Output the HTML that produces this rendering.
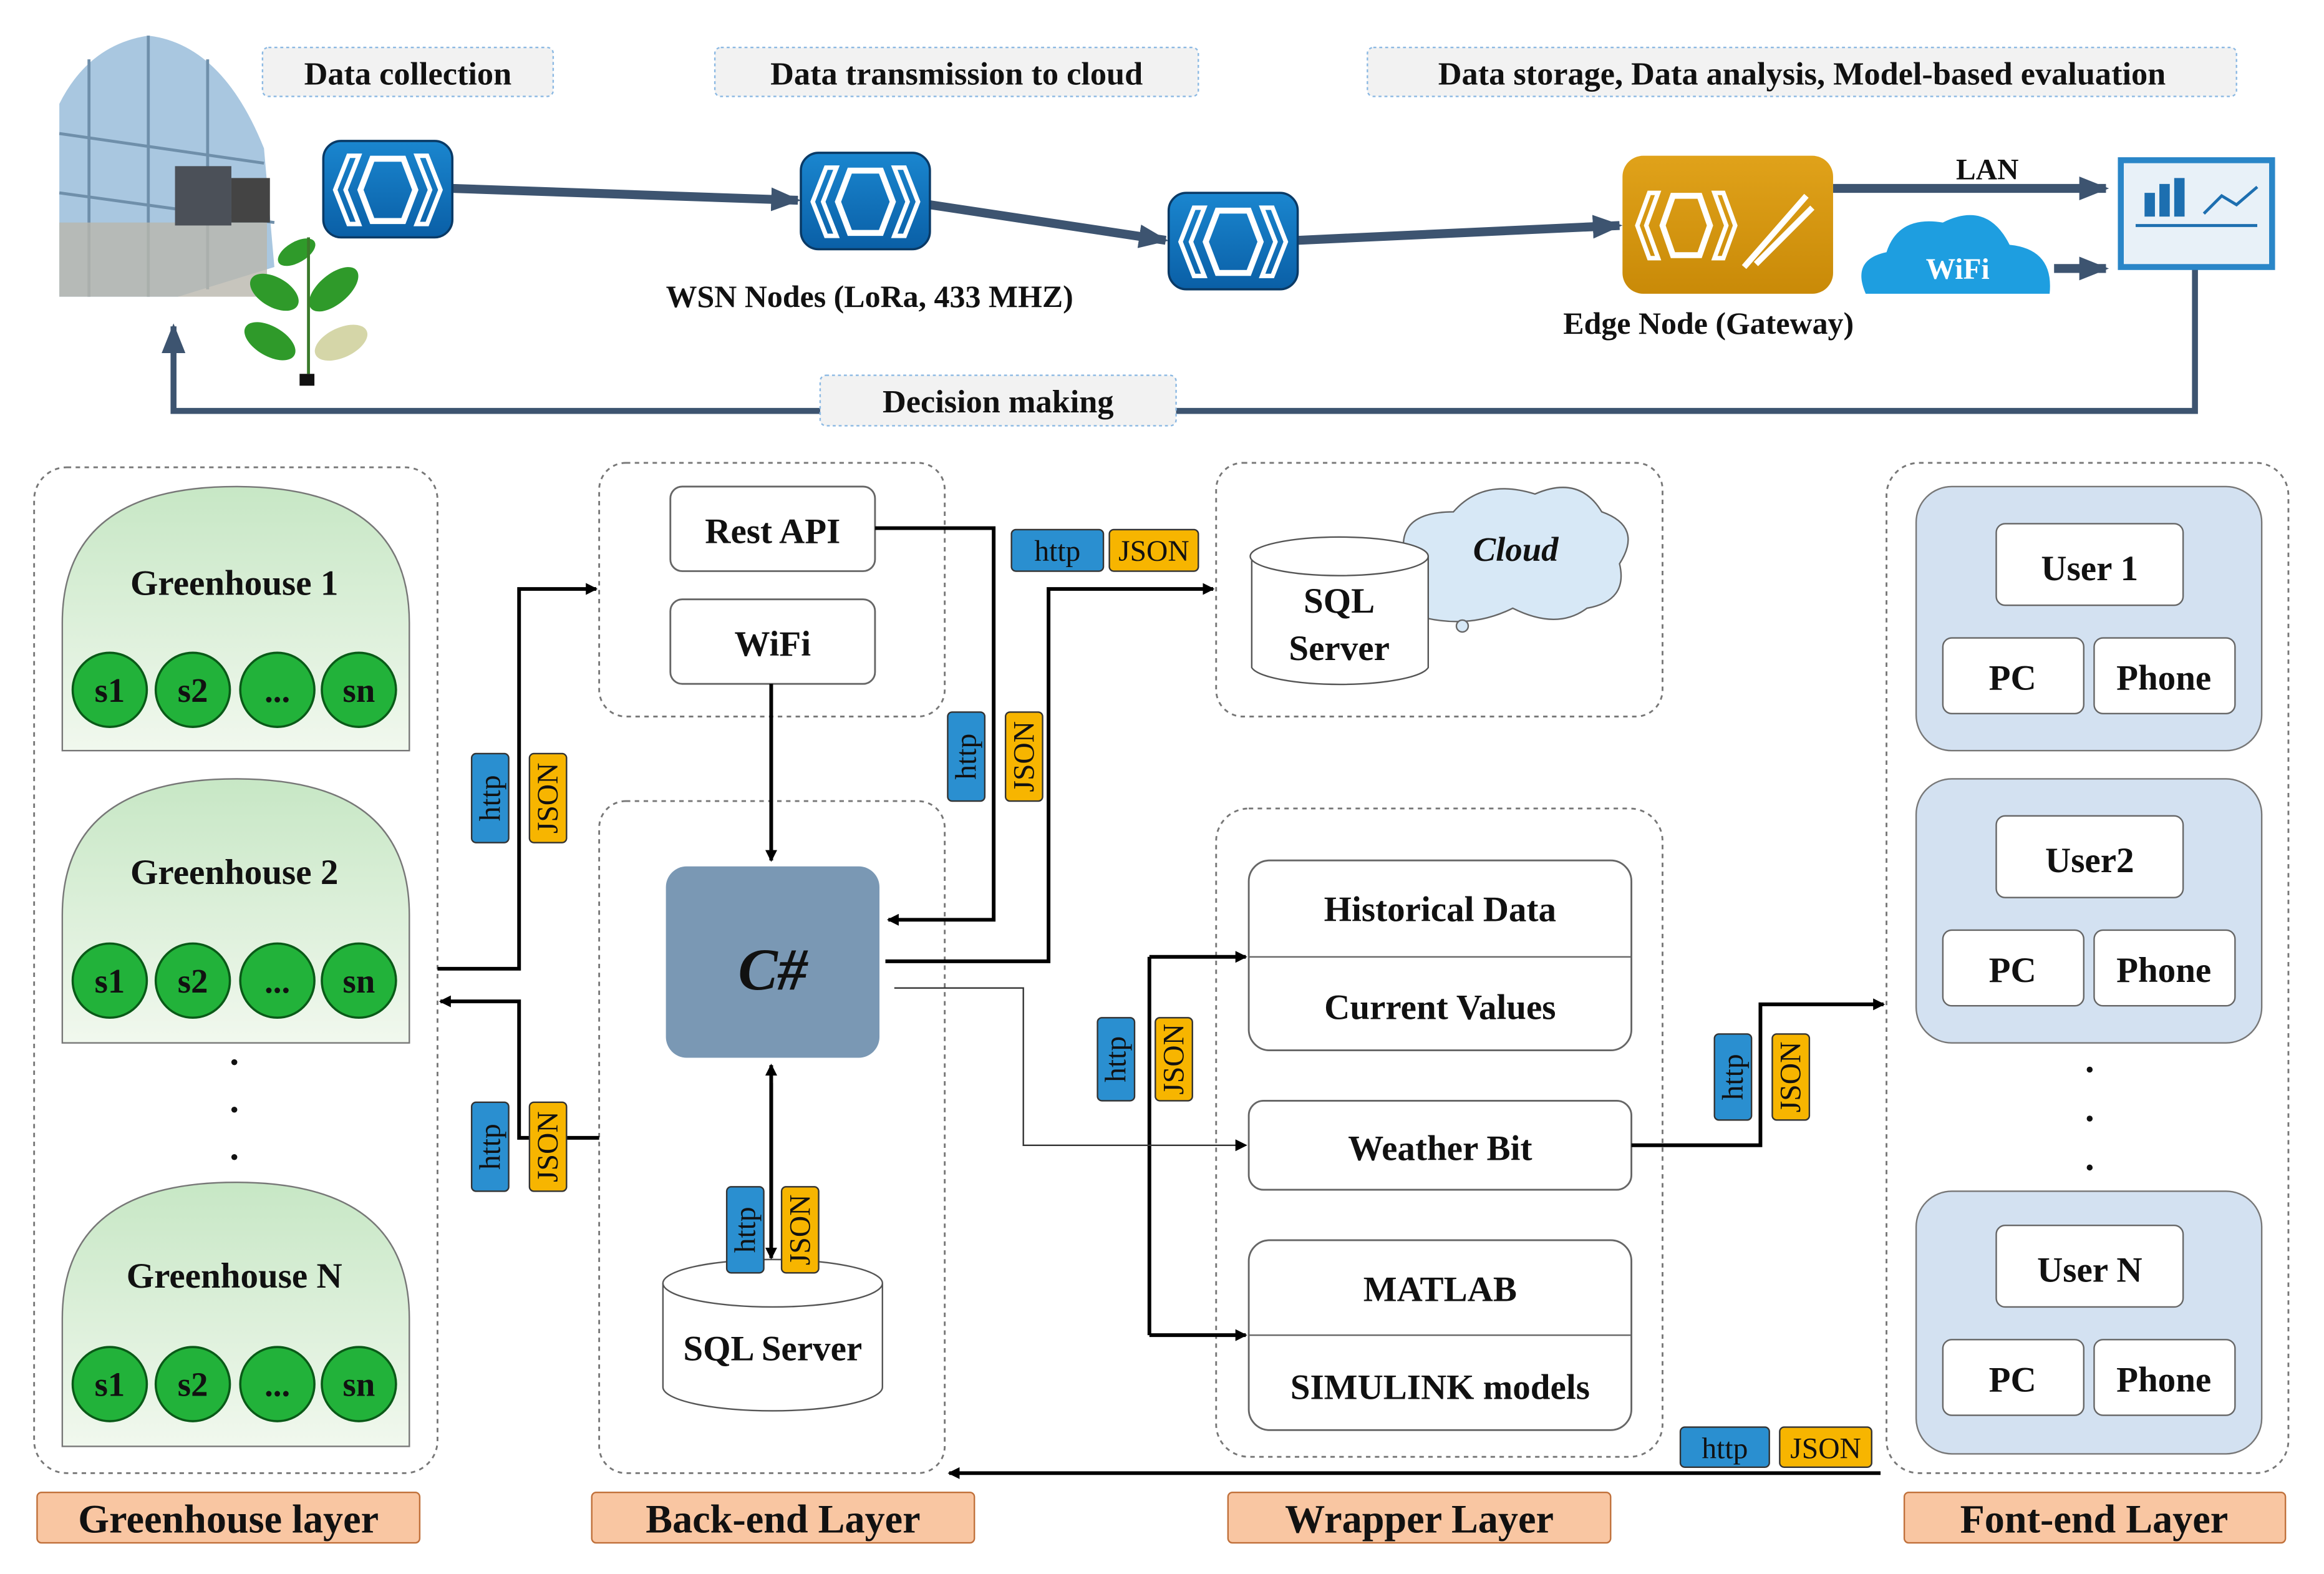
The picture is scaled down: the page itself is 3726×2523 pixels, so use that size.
<!DOCTYPE html>
<html><head><meta charset="utf-8"><style>
html,body{margin:0;padding:0;background:#fff;}
svg{display:block;}
text{font-family:"Liberation Serif",serif;font-weight:bold;fill:#111;}
</style></head><body>
<svg width="3726" height="2523" viewBox="0 0 1567 1061" preserveAspectRatio="none" xmlns="http://www.w3.org/2000/svg">
<defs>
<marker id="a" markerWidth="8" markerHeight="8" refX="7" refY="4" orient="auto" markerUnits="userSpaceOnUse"><path d="M0,0 L8,4 L0,8 z" fill="#000"/></marker>
<marker id="ab" markerWidth="20" markerHeight="16" refX="18" refY="8" orient="auto" markerUnits="userSpaceOnUse"><path d="M0,0 L20,8 L0,16 z" fill="#3d5470"/></marker>
<linearGradient id="bl" x1="0" y1="0" x2="0" y2="1"><stop offset="0" stop-color="#1a86cf"/><stop offset="1" stop-color="#0a5fa6"/></linearGradient>
<linearGradient id="gd" x1="0" y1="0" x2="0" y2="1"><stop offset="0" stop-color="#e0a21a"/><stop offset="1" stop-color="#c98a08"/></linearGradient>
<linearGradient id="gh" x1="0" y1="0" x2="0" y2="1"><stop offset="0" stop-color="#c7e7c5"/><stop offset="1" stop-color="#f1f8ee"/></linearGradient>
<g id="ico"><rect x="0" y="0" width="87" height="65" rx="12" fill="url(#bl)" stroke="#0a3a66" stroke-width="1.5"/>
<path d="M17,10 L8,33 L17,56 L24,56 L15,33 L24,10 z M70,10 L79,33 L70,56 L63,56 L72,33 L63,10 z" fill="none" stroke="#fff" stroke-width="3"/>
<path d="M33,12 L54,12 L62,33 L54,54 L33,54 L25,33 z" fill="none" stroke="#fff" stroke-width="4"/></g>
</defs>

<!-- greenhouse image -->
<path d="M40,200 L40,70 Q60,30 100,24 Q150,30 178,100 L185,180 L120,200 z" fill="#a9c7e0"/>
<path d="M40,130 L185,150 M60,40 L60,200 M100,24 L100,200 M140,40 L140,195 M40,90 L178,110" stroke="#6f8faa" stroke-width="2" fill="none"/>
<rect x="40" y="150" width="140" height="50" fill="#b9b6ad" opacity="0.8"/>
<rect x="118" y="112" width="38" height="40" fill="#4b5058"/>
<rect x="156" y="120" width="26" height="30" fill="#444"/>
<!-- plant -->
<g fill="#2f9a2a"><ellipse cx="185" cy="197" rx="18" ry="10" transform="rotate(30 185 197)"/><ellipse cx="225" cy="195" rx="20" ry="10" transform="rotate(-40 225 195)"/><ellipse cx="182" cy="230" rx="19" ry="10" transform="rotate(30 182 230)"/><ellipse cx="200" cy="170" rx="14" ry="7" transform="rotate(-30 200 170)"/></g>
<ellipse cx="230" cy="231" rx="19" ry="10" transform="rotate(-25 230 231)" fill="#d5d6a8"/>
<line x1="208" y1="160" x2="208" y2="252" stroke="#3a7a2a" stroke-width="2"/>
<rect x="202" y="252" width="10" height="8" fill="#111"/>

<!-- top labels -->
<g fill="#f2f2f2" stroke="#8cb9e3" stroke-dasharray="2,2" stroke-width="1">
<rect x="177" y="32" width="196" height="33" rx="4"/><rect x="482" y="32" width="326" height="33" rx="4"/><rect x="922" y="32" width="586" height="33" rx="4"/></g>
<text x="275" y="57" font-size="22" text-anchor="middle">Data collection</text>
<text x="645" y="57" font-size="22" text-anchor="middle">Data transmission to cloud</text>
<text x="1215" y="57" font-size="22" text-anchor="middle">Data storage, Data analysis, Model-based evaluation</text>

<!-- top flow -->
<g stroke="#3d5470" stroke-width="6" fill="none" marker-end="url(#ab)">
<line x1="305" y1="127" x2="538" y2="135"/><line x1="627" y1="138" x2="786" y2="162"/><line x1="875" y1="162" x2="1092" y2="152"/>
<line x1="1236" y1="127" x2="1420" y2="127"/><line x1="1385" y1="181" x2="1420" y2="181"/>
</g>
<path d="M1480,180 L1480,277 L117,277 L117,220" stroke="#3d5470" stroke-width="4" fill="none" marker-end="url(#ab)"/>
<rect x="553" y="253" width="240" height="34" rx="4" fill="#f2f2f2" stroke="#8cb9e3" stroke-dasharray="2,2"/>
<text x="673" y="278" font-size="22" text-anchor="middle">Decision making</text>
<use href="#ico" x="218" y="95"/><use href="#ico" x="540" y="103"/><use href="#ico" x="788" y="130"/>
<rect x="1094" y="105" width="142" height="93" rx="14" fill="url(#gd)"/>
<path d="M1112,130 L1104,152 L1112,174 L1118,174 L1110,152 L1118,130 z M1162,130 L1170,152 L1162,174 L1156,174 L1164,152 L1156,130 z" fill="none" stroke="#fff" stroke-width="3"/>
<path d="M1128,132 L1146,132 L1153,152 L1146,172 L1128,172 L1121,152 z" fill="none" stroke="#fff" stroke-width="4"/>
<path d="M1176,180 L1218,132 M1184,178 L1222,140" stroke="#fff" stroke-width="4"/>
<text x="449" y="207" font-size="21">WSN Nodes (LoRa, 433 MHZ)</text>
<text x="1152" y="225" font-size="21" text-anchor="middle">Edge Node (Gateway)</text>
<text x="1340" y="121" font-size="20" text-anchor="middle">LAN</text>
<path d="M1258,198 Q1248,175 1272,170 Q1280,145 1310,150 Q1340,135 1355,165 Q1385,168 1382,198 z" fill="#1e9ee0"/>
<text x="1320" y="188" font-size="20" text-anchor="middle" style="fill:#fff">WiFi</text>
<rect x="1430" y="108" width="102" height="72" fill="#e8f1f8" stroke="#2a86c8" stroke-width="4"/>
<rect x="1446" y="130" width="7" height="16" fill="#1d6fb0"/><rect x="1456" y="124" width="7" height="22" fill="#1d6fb0"/><rect x="1466" y="120" width="7" height="26" fill="#1d6fb0"/>
<path d="M1486,144 L1498,132 L1508,138 L1522,126" stroke="#1d6fb0" stroke-width="2" fill="none"/>
<line x1="1440" y1="152" x2="1522" y2="152" stroke="#1d6fb0" stroke-width="2"/>

<!-- dashed containers -->
<g fill="none" stroke="#777" stroke-dasharray="3,3" stroke-width="1.2">
<rect x="23" y="315" width="272" height="678" rx="22"/><rect x="404" y="312" width="233" height="171" rx="18"/><rect x="404" y="540" width="233" height="453" rx="18"/>
<rect x="820" y="312" width="301" height="171" rx="18"/><rect x="820" y="545" width="301" height="437" rx="22"/><rect x="1272" y="312" width="271" height="681" rx="22"/>
</g>

<!-- greenhouses -->
<path d="M42,506 L42,420 Q42,328 159,328 Q276,328 276,420 L276,506 z" fill="url(#gh)" stroke="#777"/>
<path d="M42,703 L42,617 Q42,525 159,525 Q276,525 276,617 L276,703 z" fill="url(#gh)" stroke="#777"/>
<path d="M42,975 L42,889 Q42,797 159,797 Q276,797 276,889 L276,975 z" fill="url(#gh)" stroke="#777"/>
<text x="158" y="401" font-size="24" text-anchor="middle">Greenhouse 1</text>
<text x="158" y="596" font-size="24" text-anchor="middle">Greenhouse 2</text>
<text x="158" y="868" font-size="24" text-anchor="middle">Greenhouse N</text>
<g fill="#22b23a" stroke="#0a5a18" stroke-width="1.5">
<circle cx="74" cy="465" r="25"/><circle cx="130" cy="465" r="25"/><circle cx="187" cy="465" r="25"/><circle cx="242" cy="465" r="25"/>
<circle cx="74" cy="661" r="25"/><circle cx="130" cy="661" r="25"/><circle cx="187" cy="661" r="25"/><circle cx="242" cy="661" r="25"/>
<circle cx="74" cy="933" r="25"/><circle cx="130" cy="933" r="25"/><circle cx="187" cy="933" r="25"/><circle cx="242" cy="933" r="25"/></g>
<g font-size="23" text-anchor="middle">
<text x="74" y="473">s1</text><text x="130" y="473">s2</text><text x="187" y="473">...</text><text x="242" y="473">sn</text>
<text x="74" y="669">s1</text><text x="130" y="669">s2</text><text x="187" y="669">...</text><text x="242" y="669">sn</text>
<text x="74" y="941">s1</text><text x="130" y="941">s2</text><text x="187" y="941">...</text><text x="242" y="941">sn</text></g>
<g fill="#111"><circle cx="158" cy="716" r="2"/><circle cx="158" cy="748" r="2"/><circle cx="158" cy="780" r="2"/>
<circle cx="1409" cy="721" r="2"/><circle cx="1409" cy="754" r="2"/><circle cx="1409" cy="787" r="2"/></g>

<!-- backend -->
<g fill="#fff" stroke="#666" stroke-width="1.2">
<rect x="452" y="328" width="138" height="57" rx="8"/><rect x="452" y="404" width="138" height="57" rx="8"/></g>
<text x="521" y="366" font-size="24" text-anchor="middle">Rest API</text>
<text x="521" y="442" font-size="24" text-anchor="middle">WiFi</text>
<rect x="449" y="584" width="144" height="129" rx="14" fill="#7a98b4"/>
<text x="521" y="667" font-size="40" text-anchor="middle" font-style="italic">C#</text>
<path d="M447,865 L447,935 A74,16 0 0 0 595,935 L595,865" fill="#fff" stroke="#555"/>
<ellipse cx="521" cy="865" rx="74" ry="16" fill="#fff" stroke="#555"/>
<text x="521" y="917" font-size="24" text-anchor="middle">SQL Server</text>

<!-- cloud -->
<path d="M955,415 Q930,405 950,385 Q935,345 980,345 Q1000,322 1035,333 Q1065,320 1080,345 Q1108,355 1092,380 Q1098,405 1070,410 Q1050,425 1020,410 Q990,425 955,415 z" fill="#d7e8f6" stroke="#666"/>
<circle cx="986" cy="422" r="4" fill="#d7e8f6" stroke="#666"/>
<text x="1022" y="378" font-size="23" text-anchor="middle" font-style="italic">Cloud</text>
<path d="M844,375 L844,450 A60,13 0 0 0 963,450 L963,375" fill="#fff" stroke="#555"/>
<ellipse cx="903" cy="375" rx="60" ry="13" fill="#fff" stroke="#555"/>
<text x="903" y="413" font-size="24" text-anchor="middle">SQL</text>
<text x="903" y="445" font-size="24" text-anchor="middle">Server</text>

<!-- wrapper -->
<g fill="#fff" stroke="#666" stroke-width="1.2">
<rect x="842" y="580" width="258" height="128" rx="14"/><rect x="842" y="742" width="258" height="60" rx="10"/><rect x="842" y="836" width="258" height="128" rx="14"/></g>
<line x1="842" y1="645" x2="1100" y2="645" stroke="#666"/><line x1="842" y1="900" x2="1100" y2="900" stroke="#666"/>
<g font-size="24" text-anchor="middle"><text x="971" y="621">Historical Data</text><text x="971" y="687">Current Values</text>
<text x="971" y="782">Weather Bit</text><text x="971" y="877">MATLAB</text><text x="971" y="943">SIMULINK models</text></g>

<!-- front end -->
<g fill="#d3e1f1" stroke="#777"><rect x="1292" y="328" width="233" height="178" rx="24"/><rect x="1292" y="525" width="233" height="178" rx="24"/><rect x="1292" y="803" width="233" height="177" rx="24"/></g>
<g fill="#fff" stroke="#666">
<rect x="1346" y="353" width="126" height="55" rx="6"/><rect x="1310" y="430" width="95" height="51" rx="6"/><rect x="1412" y="430" width="95" height="51" rx="6"/>
<rect x="1346" y="550" width="126" height="55" rx="6"/><rect x="1310" y="627" width="95" height="51" rx="6"/><rect x="1412" y="627" width="95" height="51" rx="6"/>
<rect x="1346" y="826" width="126" height="55" rx="6"/><rect x="1310" y="903" width="95" height="51" rx="6"/><rect x="1412" y="903" width="95" height="51" rx="6"/></g>
<g font-size="24" text-anchor="middle">
<text x="1409" y="391">User 1</text><text x="1357" y="465">PC</text><text x="1459" y="465">Phone</text>
<text x="1409" y="588">User2</text><text x="1357" y="662">PC</text><text x="1459" y="662">Phone</text>
<text x="1409" y="864">User N</text><text x="1357" y="938">PC</text><text x="1459" y="938">Phone</text></g>

<!-- connectors -->
<g stroke="#000" stroke-width="2.5" fill="none" marker-end="url(#a)">
<path d="M295,653 L350,653 L350,397 L402,397"/>
<path d="M404,767 L350,767 L350,675 L297,675"/>
<path d="M590,356 L670,356 L670,620 L599,620"/>
<path d="M597,648 L707,648 L707,397 L818,397"/>
<path d="M520,461 L520,580"/>
<path d="M1100,772 L1187,772 L1187,677 L1270,677"/>
<path d="M1268,993 L640,993"/>
<path d="M775,645 L840,645"/><path d="M775,900 L840,900"/>
<path d="M520,730 L520,848"/>
</g>
<path d="M775,645 L775,900" stroke="#000" stroke-width="2.5"/>
<path d="M520,840 L520,718" stroke="#000" stroke-width="2.5" marker-end="url(#a)"/>
<path d="M603,666 L690,666 L690,772 L840,772" stroke="#333" stroke-width="1" fill="none" marker-end="url(#a)"/>

<!-- tags -->
<g stroke="#333" stroke-width="1">
<g fill="#2a8fd0"><rect x="318" y="508" width="25" height="60" rx="3"/><rect x="318" y="743" width="25" height="60" rx="3"/><rect x="639" y="480" width="25" height="60" rx="3"/><rect x="490" y="800" width="25" height="58" rx="3"/><rect x="740" y="686" width="25" height="56" rx="3"/><rect x="1156" y="697" width="25" height="58" rx="3"/><rect x="682" y="357" width="62" height="28" rx="3"/><rect x="1133" y="962" width="60" height="27" rx="3"/></g>
<g fill="#f7b500"><rect x="357" y="508" width="25" height="60" rx="3"/><rect x="357" y="743" width="25" height="60" rx="3"/><rect x="678" y="480" width="25" height="60" rx="3"/><rect x="527" y="800" width="25" height="58" rx="3"/><rect x="779" y="686" width="25" height="56" rx="3"/><rect x="1195" y="697" width="25" height="58" rx="3"/><rect x="748" y="357" width="60" height="28" rx="3"/><rect x="1200" y="962" width="62" height="27" rx="3"/></g></g>
<g font-size="20" text-anchor="middle">
<text x="713" y="378" style="font-weight:normal">http</text><text x="778" y="378" style="font-weight:normal">JSON</text>
<text x="1163" y="983" style="font-weight:normal">http</text><text x="1231" y="983" style="font-weight:normal">JSON</text>
<text transform="translate(337,538) rotate(-90)" style="font-weight:normal">http</text><text transform="translate(376,538) rotate(-90)" style="font-weight:normal">JSON</text>
<text transform="translate(337,773) rotate(-90)" style="font-weight:normal">http</text><text transform="translate(376,773) rotate(-90)" style="font-weight:normal">JSON</text>
<text transform="translate(658,510) rotate(-90)" style="font-weight:normal">http</text><text transform="translate(697,510) rotate(-90)" style="font-weight:normal">JSON</text>
<text transform="translate(509,829) rotate(-90)" style="font-weight:normal">http</text><text transform="translate(546,829) rotate(-90)" style="font-weight:normal">JSON</text>
<text transform="translate(759,714) rotate(-90)" style="font-weight:normal">http</text><text transform="translate(798,714) rotate(-90)" style="font-weight:normal">JSON</text>
<text transform="translate(1175,726) rotate(-90)" style="font-weight:normal">http</text><text transform="translate(1214,726) rotate(-90)" style="font-weight:normal">JSON</text>
</g>

<!-- footer labels -->
<g fill="#f9c6a2" stroke="#c0703a" stroke-width="1"><rect x="25" y="1006" width="258" height="34" rx="3"/><rect x="399" y="1006" width="258" height="34" rx="3"/><rect x="828" y="1006" width="258" height="34" rx="3"/><rect x="1284" y="1006" width="257" height="34" rx="3"/></g>
<g font-size="27" text-anchor="middle"><text x="154" y="1033">Greenhouse layer</text><text x="528" y="1033">Back-end Layer</text><text x="957" y="1033">Wrapper Layer</text><text x="1412" y="1033">Font-end Layer</text></g>
</svg>
</body></html>
